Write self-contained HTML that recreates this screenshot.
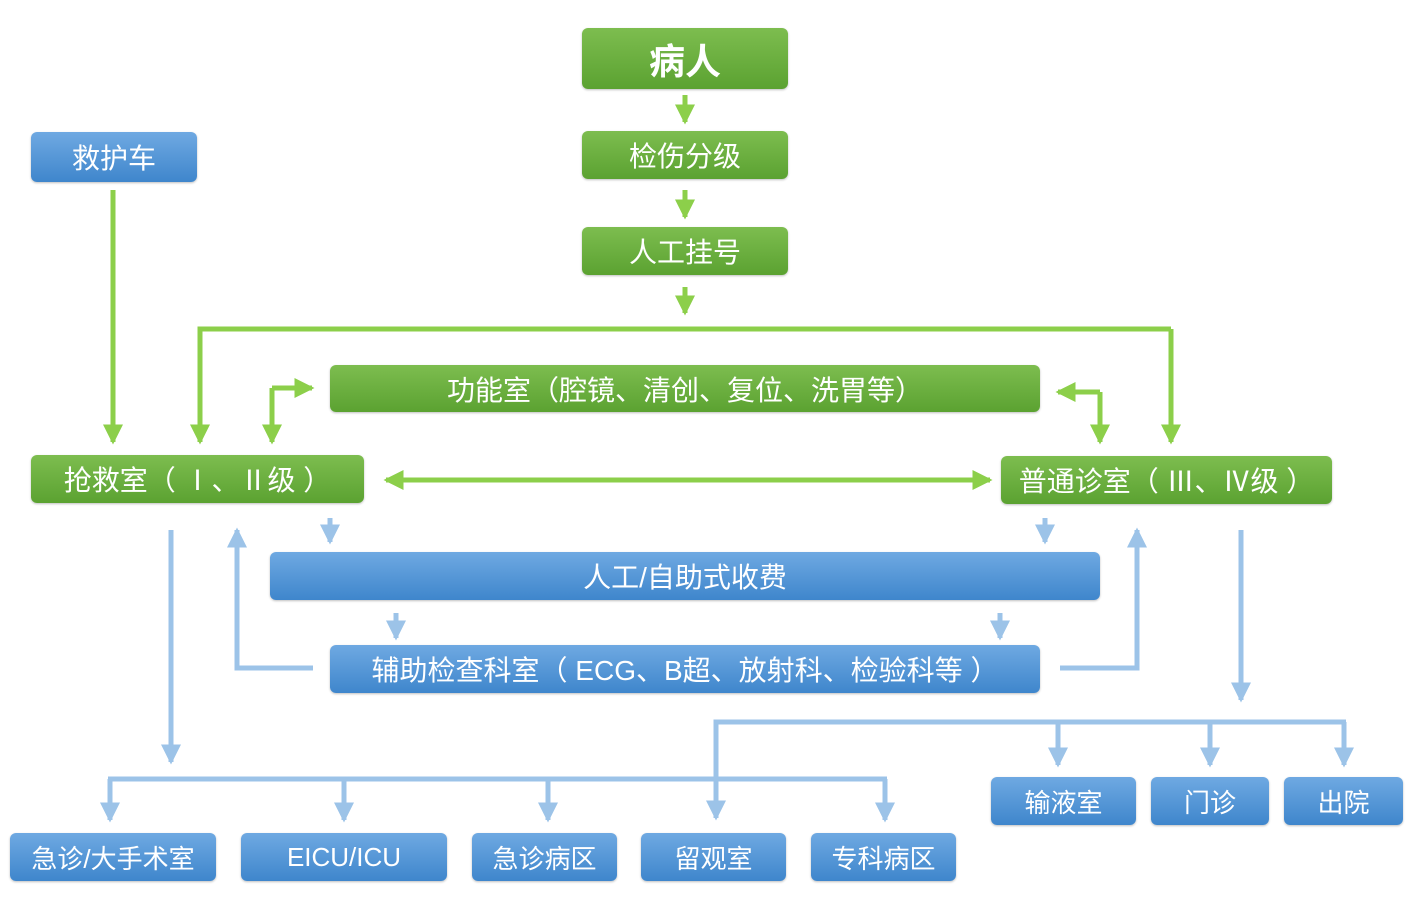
<!DOCTYPE html>
<html><head><meta charset="utf-8"><style>
body{margin:0;width:1422px;height:913px;background:#fff;position:relative;overflow:hidden;font-family:"Liberation Sans","Noto Sans CJK SC",sans-serif}
.b{position:absolute;border-radius:6px;color:#fff;display:flex;align-items:center;justify-content:center;font-size:28px;white-space:nowrap;box-sizing:border-box}
.g{background:linear-gradient(#7dbd4f,#5ba231);box-shadow:0 1px 2px rgba(0,0,0,.25)}
.u{background:linear-gradient(#6fa9e2,#3f86cc);box-shadow:0 1px 2px rgba(0,0,0,.25)}
svg{position:absolute;left:0;top:0}
</style></head><body>
<svg width="1422" height="913">
<defs>
<marker id="ga" markerWidth="4" markerHeight="4" refX="3.5" refY="2" orient="auto" markerUnits="strokeWidth"><path d="M0,0L4,2L0,4z" fill="#8ccf4a"/></marker>
<marker id="ba" markerWidth="4" markerHeight="4" refX="3.5" refY="2" orient="auto" markerUnits="strokeWidth"><path d="M0,0L4,2L0,4z" fill="#9cc3e8"/></marker>
</defs>
<g stroke="#8ccf4a" stroke-width="5" fill="none" marker-end="url(#ga)">
<path d="M685,95V122"/><path d="M685,190V217"/><path d="M685,287V313"/>
<path d="M113,190V442"/>
<path d="M200,442" marker-end="none"/>
<path d="M1171,329V442"/>
<path d="M272,388V442"/>
<path d="M272,388H312"/>
<path d="M1100,392V442"/>
<path d="M1100,392H1058"/>
<path d="M400,480H990"/>
<path d="M980,480H386"/>
</g>
<path d="M200,442V329H1171" stroke="#8ccf4a" stroke-width="5" fill="none"/>
<path d="M200,420V442" stroke="#8ccf4a" stroke-width="5" marker-end="url(#ga)"/>
<g stroke="#9cc3e8" stroke-width="5" fill="none" marker-end="url(#ba)">
<path d="M330,518V542"/><path d="M1045,518V542"/><path d="M396,613V638"/><path d="M1000,613V638"/>
<path d="M313,668H237V530"/><path d="M1060,668H1137V530"/>
<path d="M171,530V762"/><path d="M1241,530V700"/>
<path d="M716,779V818"/>
<path d="M1058,722V765"/><path d="M1210,722V765"/><path d="M1344,722V765"/>
<path d="M110,779V820"/><path d="M344,779V820"/><path d="M548,779V820"/><path d="M885,779V820"/>
</g>
<path d="M716,779V722H1346" stroke="#9cc3e8" stroke-width="5" fill="none"/>
<path d="M108,779H887" stroke="#9cc3e8" stroke-width="5" fill="none"/>
</svg>
<div class="b g" style="left:582px;top:28px;width:206px;height:61px;font-size:36px;font-weight:bold">病人</div>
<div class="b g" style="left:582px;top:131px;width:206px;height:48px">检伤分级</div>
<div class="b g" style="left:582px;top:227px;width:206px;height:48px">人工挂号</div>
<div class="b u" style="left:31px;top:132px;width:166px;height:50px">救护车</div>
<div class="b g" style="left:330px;top:365px;width:710px;height:47px">功能室（腔镜、清创、复位、洗胃等）</div>
<div class="b g" style="left:31px;top:455px;width:333px;height:48px">抢救室（ Ⅰ、Ⅱ级 ）</div>
<div class="b g" style="left:1001px;top:456px;width:331px;height:48px">普通诊室（ Ⅲ、Ⅳ级 ）</div>
<div class="b u" style="left:270px;top:552px;width:830px;height:48px">人工/自助式收费</div>
<div class="b u" style="left:330px;top:645px;width:710px;height:48px">辅助检查科室（ ECG、B超、放射科、检验科等 ）</div>
<div class="b u" style="left:991px;top:777px;width:145px;height:48px;font-size:26px">输液室</div>
<div class="b u" style="left:1151px;top:777px;width:118px;height:48px;font-size:26px">门诊</div>
<div class="b u" style="left:1284px;top:777px;width:119px;height:48px;font-size:26px">出院</div>
<div class="b u" style="left:10px;top:833px;width:206px;height:48px;font-size:26px">急诊/大手术室</div>
<div class="b u" style="left:241px;top:833px;width:206px;height:48px;font-size:26px">EICU/ICU</div>
<div class="b u" style="left:472px;top:833px;width:145px;height:48px;font-size:26px">急诊病区</div>
<div class="b u" style="left:641px;top:833px;width:145px;height:48px;font-size:26px">留观室</div>
<div class="b u" style="left:811px;top:833px;width:145px;height:48px;font-size:26px">专科病区</div>
</body></html>
